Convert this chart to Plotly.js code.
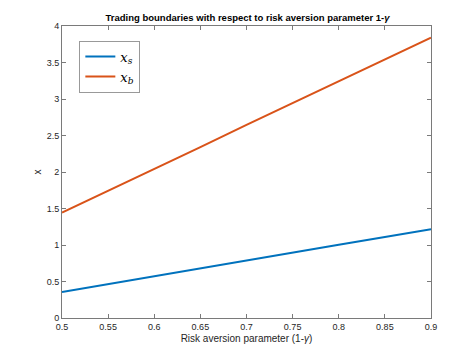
<!DOCTYPE html>
<html>
<head>
<script src="https://cdn.plot.ly/plotly-3.0.1.min.js"></script>
<style>html,body{margin:0;padding:0;background:#fff;}#chart{width:476px;height:357px;}</style>
</head>
<body>
<div id="chart"></div>
<script>
const riskAversion = [0.5, 0.55, 0.6, 0.65, 0.7, 0.75, 0.8, 0.85, 0.9];
const xsValues = [0.355, 0.465, 0.575, 0.685, 0.795, 0.9, 1.005, 1.11, 1.215];
const xbValues = [1.445, 1.74, 2.04, 2.34, 2.645, 2.945, 3.245, 3.545, 3.84];
const seriesNames = ['<i>x</i><sub><i>s</i></sub>', '<i>x</i><sub><i>b</i></sub>'];
const xTicks = [0.5, 0.55, 0.6, 0.65, 0.7, 0.75, 0.8, 0.85, 0.9];
const yTicks = [0, 0.5, 1, 1.5, 2, 2.5, 3, 3.5, 4];

const axisCommon = {
  showline: true, linecolor: '#7a7a7a', linewidth: 1, mirror: 'ticks',
  ticks: 'inside', ticklen: 4, tickcolor: '#7a7a7a', tickwidth: 1,
  showgrid: false, zeroline: false,
  tickfont: {family: 'Liberation Sans, Arial, sans-serif', size: 9, color: '#262626'}
};

const data = [
  {x: riskAversion, y: xsValues, type: 'scatter', mode: 'lines', name: seriesNames[0],
   line: {color: '#0072BD', width: 2}},
  {x: riskAversion, y: xbValues, type: 'scatter', mode: 'lines', name: seriesNames[1],
   line: {color: '#D95319', width: 2}}
];

const layout = {
  width: 476, height: 357,
  margin: {l: 62, r: 45, t: 26, b: 39},
  paper_bgcolor: '#fff', plot_bgcolor: '#fff',
  title: {text: '<b>Trading boundaries with respect to risk aversion parameter 1-<i>γ</i></b>',
    font: {family: 'Liberation Sans, Arial, sans-serif', size: 9.5, color: '#000'},
    x: 0.52, xanchor: 'center', y: 0.951, yanchor: 'middle'},
  xaxis: Object.assign({}, axisCommon, {
    range: [0.5, 0.9], tickvals: xTicks, ticktext: xTicks.map(String),
    title: {text: 'Risk aversion parameter (1-<i>γ</i>)', standoff: 4,
      font: {family: 'Liberation Sans, Arial, sans-serif', size: 10, color: '#262626'}}
  }),
  yaxis: Object.assign({}, axisCommon, {
    range: [0, 4], tickvals: yTicks, ticktext: yTicks.map(String),
    title: {text: 'x', standoff: 3,
      font: {family: 'Liberation Sans, Arial, sans-serif', size: 10, color: '#262626'}}
  }),
  showlegend: true,
  legend: {x: 0.047, y: 0.95, xanchor: 'left', yanchor: 'top',
    bgcolor: '#fff', bordercolor: '#999', borderwidth: 1,
    font: {family: 'DejaVu Serif, Liberation Serif, serif', size: 13, color: '#000'},
    tracegroupgap: 0, itemwidth: 30}
};

Plotly.newPlot('chart', data, layout, {displayModeBar: false, staticPlot: true});
</script>
</body>
</html>
